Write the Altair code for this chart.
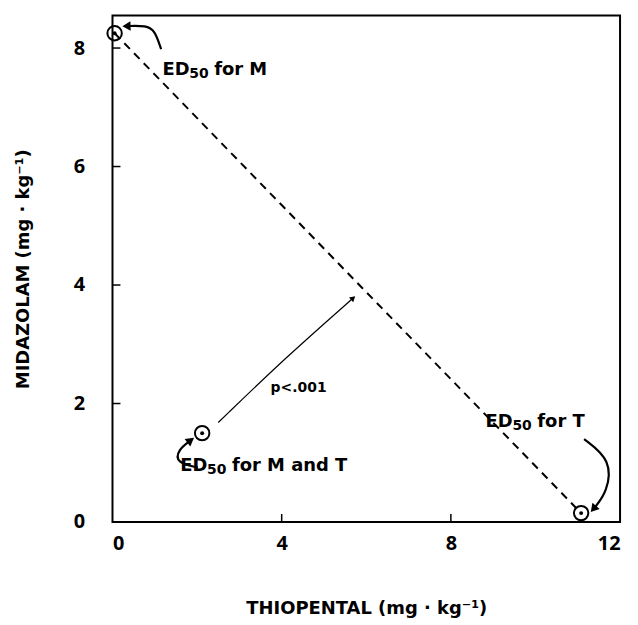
import math
import altair as alt
import pandas as pd

# ---- data ----
pt_label = ["M", "T", "M and T"]
pt_x = [0.05, 11.08, 2.12]
pt_y = [8.25, 0.15, 1.5]

iso_x = [0.05, 11.08]
iso_y = [8.25, 0.15]

x_ticks = [0, 4, 8, 12]
y_ticks = [0, 2, 4, 6, 8]

# annotation arrows (label -> point), in data units
arrow_id = ["M", "M", "M", "M", "T", "T", "T", "T", "MT", "MT", "MT", "MT", "P", "P", "P"]
arrow_x = [1.15, 1.0, 0.8, 0.33, 11.15, 11.8, 11.7, 11.37, 2.02, 1.5, 1.55, 1.85, 2.5, 4.1, 5.69]
arrow_y = [7.98, 8.3, 8.38, 8.37, 1.40, 1.05, 0.5, 0.22, 0.92, 1.0, 1.22, 1.38, 1.68, 2.78, 3.78]
arrow_w = [2.2, 2.2, 2.2, 2.2, 2.2, 2.2, 2.2, 2.2, 2.2, 2.2, 2.2, 2.2, 1.2, 1.2, 1.2]

lab_main = ["ED", "ED", "ED"]
lab_rest = ["for M", "for T", "for M and T"]
lab_x = [1.18, 8.82, 1.6]
lab_y = [7.63, 1.68, 0.95]

p_text = ["p<.001"]
p_x = [4.4]
p_y = [2.27]

W, H = 510, 509
XD, YD = [0, 12], [0, 8.55]
pxx = W / (XD[1] - XD[0])
pxy = H / (YD[1] - YD[0])
FONT = "DejaVu Sans"
TFONT = "Open Sans"

pts = pd.DataFrame({"label": pt_label, "x": pt_x, "y": pt_y})
iso = pd.DataFrame({"x": iso_x, "y": iso_y})
arr = pd.DataFrame({"id": arrow_id, "x": arrow_x, "y": arrow_y, "w": arrow_w})
arr["order"] = range(len(arr))
labs = pd.DataFrame({"main": lab_main, "rest": lab_rest, "x": lab_x, "y": lab_y, "sub": ["50"] * 3})
ptxt = pd.DataFrame({"t": p_text, "x": p_x, "y": p_y})

# arrowheads at the last point of each arrow
heads = []
for aid in dict.fromkeys(arrow_id):
    sub = arr[arr["id"] == aid]
    x0, y0 = sub.iloc[-2]["x"], sub.iloc[-2]["y"]
    x1, y1 = sub.iloc[-1]["x"], sub.iloc[-1]["y"]
    dx = (x1 - x0) * pxx
    dy = -(y1 - y0) * pxy
    ang = math.degrees(math.atan2(dx, -dy)) % 360
    heads.append({"x": x1, "y": y1, "angle": ang, "size": 40 if aid == "P" else 90})
heads = pd.DataFrame(heads)

xt = pd.DataFrame({"x": [4, 8]})
yt = pd.DataFrame({"y": [2, 4, 6, 8]})

xs = alt.Scale(domain=XD, nice=False, zero=False)
ys = alt.Scale(domain=YD, nice=False, zero=False)

xax = alt.Axis(values=x_ticks, format="d", ticks=False, domain=False, grid=False, labelFontSize=20,
               labelFontWeight="bold", labelFont=TFONT, labelPadding=12, labelColor="black",
               title="THIOPENTAL (mg · kg⁻¹)", titleFontSize=18, titleFont=FONT,
               titleFontWeight="bold", titleY=87, titleBaseline="middle", titleColor="black")
yax = alt.Axis(values=y_ticks, format="d", ticks=False, domain=False, grid=False, labelFontSize=20,
               labelFontWeight="bold", labelFont=TFONT, labelPadding=28, labelColor="black",
               title="MIDAZOLAM (mg · kg⁻¹)", titleFontSize=18, titleFont=FONT,
               titleFontWeight="bold", titleX=-89, titleBaseline="middle", titleColor="black")

base = alt.Chart(iso).mark_line(color="black", strokeDash=[8, 6], strokeWidth=2).encode(
    x=alt.X("x:Q", scale=xs, axis=xax),
    y=alt.Y("y:Q", scale=ys, axis=yax),
)

xtick = alt.Chart(xt).mark_rule(color="black", strokeWidth=1.5).encode(
    x="x:Q", y=alt.value(H), y2=alt.value(H - 8))
ytick = alt.Chart(yt).mark_rule(color="black", strokeWidth=1.5).encode(
    y="y:Q", x=alt.value(0), x2=alt.value(8))

rings = alt.Chart(pts).mark_point(shape="circle", filled=False, color="black", size=210,
                                   strokeWidth=2, opacity=1).encode(x="x:Q", y="y:Q")
dots = alt.Chart(pts).mark_point(shape="circle", filled=True, color="black", size=16,
                                  opacity=1).encode(x="x:Q", y="y:Q")

arrows = alt.Chart(arr).mark_line(color="black", interpolate="basis").encode(
    x="x:Q", y="y:Q", detail="id:N", order="order:Q",
    strokeWidth=alt.StrokeWidth("w:Q", scale=None, legend=None))
ahead = alt.Chart(heads).mark_point(shape="triangle-up", filled=True, color="black",
                                     opacity=1).encode(
    x="x:Q", y="y:Q", angle=alt.Angle("angle:Q", scale=None),
    size=alt.Size("size:Q", scale=None, legend=None))

t_main = alt.Chart(labs).mark_text(align="left", baseline="middle", fontSize=18,
                                    fontWeight="bold", font=FONT, color="black").encode(
    x="x:Q", y="y:Q", text="main:N")
t_sub = alt.Chart(labs).mark_text(align="left", baseline="middle", fontSize=14,
                                   fontWeight="bold", font=FONT, color="black",
                                   dx=27, dy=4).encode(x="x:Q", y="y:Q", text="sub:N")
t_rest = alt.Chart(labs).mark_text(align="left", baseline="middle", fontSize=18,
                                    fontWeight="bold", font=FONT, color="black",
                                    dx=52).encode(x="x:Q", y="y:Q", text="rest:N")
t_p = alt.Chart(ptxt).mark_text(align="center", baseline="middle", fontSize=14,
                                 fontWeight="bold", font=FONT, color="black").encode(
    x="x:Q", y="y:Q", text="t:N")

chart = alt.layer(base, xtick, ytick, arrows, ahead, rings, dots, t_main, t_sub, t_rest, t_p).properties(
    width=W, height=H,
    autosize=alt.AutoSizeParams(type="none"),
    padding={"left": 105, "top": 6, "right": 10, "bottom": 102},
    background="white",
).configure_view(stroke="black", strokeWidth=2)

chart.save("out.html", embed_options={"renderer": "svg", "actions": False})
